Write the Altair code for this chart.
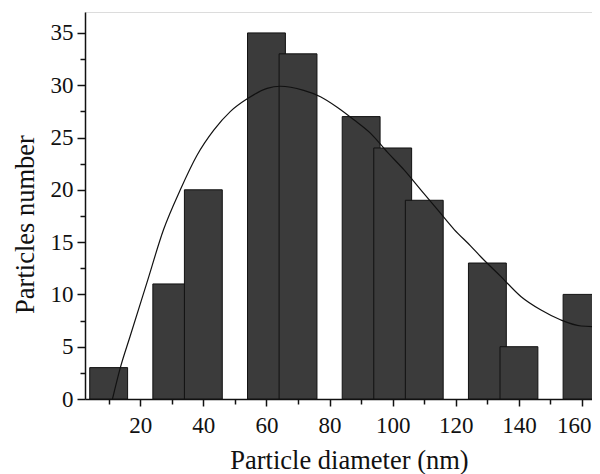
import altair as alt
import pandas as pd

# Histogram bins (centre of each bar, nm) and particle counts
bin_centers = [10, 30, 40, 60, 70, 90, 100, 110, 130, 140, 160]
counts = [3, 11, 20, 35, 33, 27, 24, 19, 13, 5, 10]
BIN_WIDTH = 12

# Fitted distribution curve
fit_x = [11.2, 13.7, 16.8, 22.1, 27.4, 32.7, 38.0, 43.3, 48.6, 53.9, 60.2, 64.4,
         71.8, 77.1, 82.4, 87.7, 93.0, 98.3, 103.6, 108.9, 114.2, 119.5, 124.8,
         127.9, 134.3, 140.6, 147.0, 153.3, 159.7, 166.0]
fit_y = [0.0, 3.0, 6.0, 11.1, 16.2, 20.0, 23.3, 25.7, 27.5, 28.7, 29.7, 29.9,
         29.5, 28.9, 27.9, 26.7, 25.4, 23.6, 21.9, 20.0, 18.1, 16.2, 14.6,
         13.6, 11.7, 9.8, 8.5, 7.55, 6.98, 6.9]

x_major = [20, 40, 60, 80, 100, 120, 140, 160]
x_minor = [10, 30, 50, 70, 90, 110, 130, 150]
y_major = [0, 5, 10, 15, 20, 25, 30, 35]
y_minor = [2.5, 7.5, 12.5, 17.5, 22.5, 27.5, 32.5]

bars_df = pd.DataFrame({"center": bin_centers, "count": counts})
fit_df = pd.DataFrame({"d": fit_x, "n": fit_y})

FONT = "Liberation Serif"
W, H = 507, 387

x_scale = alt.Scale(domain=[2.5, 163.15], nice=False, zero=False)
y_scale = alt.Scale(domain=[0, 37], nice=False)

last_x = x_major[-1]
x_axis_major = alt.Axis(
    values=x_major,
    labelOverlap=False,
    labelFlush=False,
    labelBaseline="alphabetic",
    labelPadding=26,
    labelAlign={"condition": {"test": f"datum.value === {last_x}", "value": "right"}, "value": "center"},
    labelOffset={"condition": {"test": f"datum.value === {last_x}", "value": 9}, "value": 0},
    tickSize=7,
    title="Particle diameter (nm)",
    titleX=264,
    titleY=69,
    titleBaseline="alphabetic",
    grid=False,
)
y_axis_major = alt.Axis(
    values=y_major,
    labelOverlap=False,
    labelFlush=False,
    labelPadding=4,
    tickSize=8,
    title="Particles number",
    titleX=-52,
    titleY=212,
    titleBaseline="alphabetic",
    grid=False,
)
# minor ticks: placed on the opposite orient and shifted onto the main axis line
x_axis_minor = alt.Axis(
    values=x_minor, orient="top", offset=-(H + 5), tickSize=5,
    labels=False, domain=False, title=None, grid=False,
)
y_axis_minor = alt.Axis(
    values=y_minor, orient="right", offset=-(W + 5), tickSize=5,
    labels=False, domain=False, title=None, grid=False,
)

bars = alt.Chart(bars_df).transform_calculate(
    x0=f"datum.center - {BIN_WIDTH / 2}",
    x1=f"datum.center + {BIN_WIDTH / 2}",
).mark_rect(color="#3b3b3b", stroke="#111111", strokeWidth=1, clip=True).encode(
    x=alt.X("x0:Q", scale=x_scale, axis=x_axis_major),
    x2="x1:Q",
    y=alt.Y("count:Q", scale=y_scale, axis=y_axis_major),
    y2=alt.datum(0),
)

curve = alt.Chart(fit_df).mark_line(
    color="#111111", strokeWidth=1.2, interpolate="monotone", clip=True
).encode(
    x=alt.X("d:Q", scale=x_scale, axis=x_axis_minor),
    y=alt.Y("n:Q", scale=y_scale, axis=y_axis_minor),
)

chart = alt.layer(bars, curve).resolve_axis(
    x="independent", y="independent"
).properties(
    width=W,
    height=H,
    autosize=alt.AutoSizeParams(type="none"),
    padding={"left": 77, "top": 4, "right": 0, "bottom": 75},
    background="white",
).configure_view(
    stroke="#dcdcdc", strokeWidth=1
).configure_axis(
    labelFont=FONT,
    labelFontSize=23,
    labelColor="#111111",
    titleFont=FONT,
    titleFontSize=26.5,
    titleFontWeight="normal",
    titleColor="#111111",
    domainColor="#111111",
    domainWidth=1.5,
    tickColor="#111111",
    tickWidth=1.5,
)

chart.save("out.html", embed_options={"renderer": "svg", "actions": False})
